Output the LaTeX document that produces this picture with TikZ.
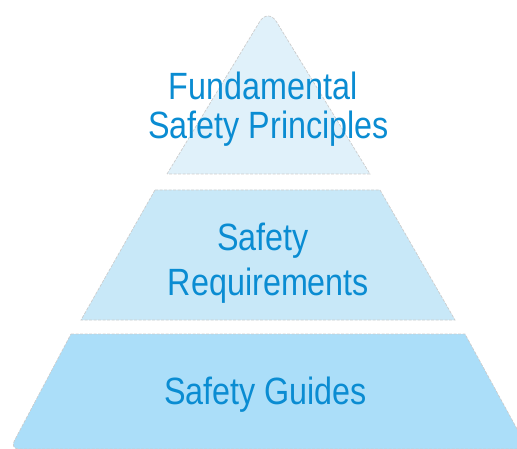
\documentclass[tikz,border=0pt]{standalone}
\usepackage{fontspec}
\setmainfont{Liberation Sans}[FakeStretch=0.85]
\begin{document}
\begin{tikzpicture}[x=1pt,y=-1pt,
  tier/.style={draw=black!20, line width=0.7pt, dash pattern=on 3pt off 1.5pt},
  lbl/.style={inner sep=0pt, anchor=base, text=labelblue, font=\fontsize{38}{40}\selectfont}]
\definecolor{labelblue}{HTML}{0A8CD2}
\definecolor{tierA}{HTML}{E0F1FA}
\definecolor{tierB}{HTML}{C8E8F8}
\definecolor{tierC}{HTML}{ABDEF9}
\useasboundingbox (0,0) rectangle (517,449);
\clip (0,0) rectangle (517,449);
% top triangle (rounded apex)
\draw[tier, fill=tierA] (167,174) [rounded corners=16pt] -- (268,8) [sharp corners] -- (370,174) -- cycle;
% middle trapezoid
\draw[tier, fill=tierB] (155,190) -- (380,190) -- (455,320) -- (81,320) -- cycle;
% bottom trapezoid (rounded bottom-left corner)
\draw[tier, fill=tierC] (71,334) -- (465,334) -- (528,449) [rounded corners=9pt] -- (10,449) [sharp corners] -- cycle;
% labels
\node[lbl] (f1) at (263,100) {Fundamental};
\node[lbl] (f2) at (268.5,139) {Safety Principles};
\node[lbl] (r1) at (263,251) {Safety};
\node[lbl] (r2) at (268.5,295) {Requirements};
\node[lbl] (g1) at (265.5,404) {Safety Guides};
\end{tikzpicture}
\end{document}
